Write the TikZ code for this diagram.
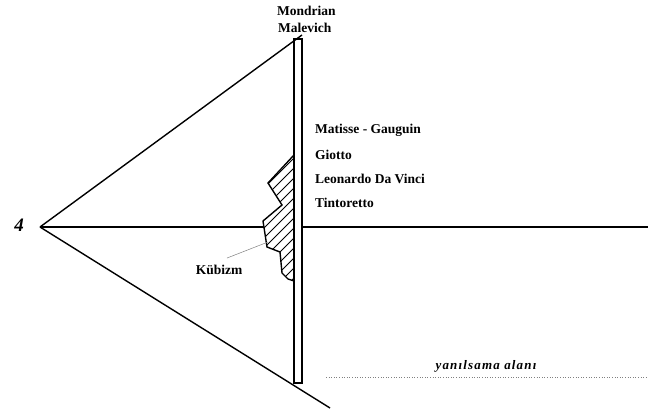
\documentclass[tikz,border=0pt]{standalone}
\usepackage{fontspec}
\setmainfont{Liberation Serif}
\usetikzlibrary{calc,positioning}

\begin{document}
\begin{tikzpicture}[
        x=1pt, y=-1pt,
        painter/.style={font=\fontsize{13.5}{15}\selectfont\bfseries, anchor=west, inner sep=0pt},
        ray/.style={line width=1.4pt},
        panel/.style={draw, line width=1.1pt, minimum width=8pt, minimum height=344pt, inner sep=0pt},
        hatch/.style={line width=0.8pt}
    ]
    \useasboundingbox (0,0) rectangle (648,412);

    \coordinate (eye) at (40,227);
    \coordinate (top) at (302,35);
    \coordinate (bot) at (330,408);
    \coordinate (far) at (648,227);
    \node[panel] (pano) at (298,211) {};

    % hatched area on the picture plane
    \begin{scope}
        \clip (294,155) -- (268,183) -- (282,205) -- (263,221) -- (267,247) -- (280,252)
              -- (282,273) -- (288,279) -- (294,281) -- cycle;
        \foreach \k in {0,...,20}
            \draw[hatch] (250,152+10*\k) -- ++(60,-60);
    \end{scope}
    \draw[ray, line join=miter] (294,155) -- (268,183) -- (282,205) -- (263,221) -- (267,247)
          -- (280,252) -- (282,273) -- (288,279) -- (294,281);
    \coordinate (hatchwest) at (264,227);

    \path[ray] (eye) edge (top)
               (eye) edge (bot)
               (eye) edge (hatchwest)
               (pano.east |- eye) edge (far);

    \node[font=\fontsize{19}{20}\selectfont\bfseries\itshape] (a) at (19,225) {4};

    \node[painter] (mon) at (277,11) {Mondrian};
    \node[painter] (mal) at (278,28) {Malevich};
    \node[painter] (mat) at (315,130) {Matisse - Gauguin};
    \node[painter] (gio) at (315,155) {Giotto};
    \node[painter] (leo) at (315,179) {Leonardo Da Vinci};
    \node[painter] (tin) at (315,203) {Tintoretto};

    \node[painter, anchor=center] (kub) at (219,270) {Kübizm};
    \coordinate (kubtip) at (268,242);
    \draw[gray, line width=0.5pt] ([xshift=8pt,yshift=7pt]kub.north) -- (kubtip);

    \node[font=\fontsize{13}{14}\selectfont\bfseries\itshape\addfontfeatures{LetterSpace=9}] (yan) at (486,366) {yanılsama alanı};
    \coordinate (dotstart) at (326,377);
    \draw[gray, dotted, line width=0.6pt] (dotstart) -- (dotstart -| far);
\end{tikzpicture}
\end{document}
